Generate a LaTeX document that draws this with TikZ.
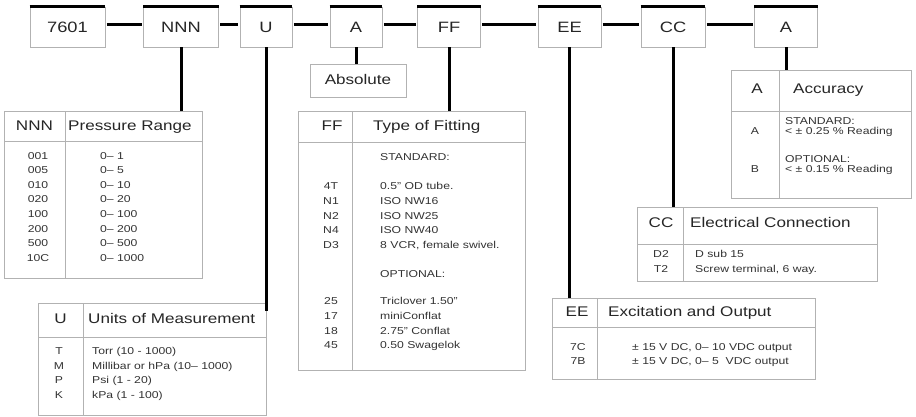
\documentclass[tikz,border=0pt]{standalone}
\usepackage{fontspec}
\setmainfont{Liberation Sans}[FakeStretch=1.22]
\usetikzlibrary{fit}
\tikzset{
  topbox/.style={draw=black!30, line width=0.8pt, minimum height=40pt, inner sep=0pt,
    font=\fontsize{15}{15}\selectfont, text=black!85},
  topline/.style={line width=2.2pt, black},
  conn/.style={line width=3pt, black},
  frame/.style={draw=black!30, line width=1pt, inner sep=0pt},
  rule/.style={draw=black!30, line width=1pt},
  hd/.style={font=\fontsize{14}{14}\selectfont, inner sep=0pt, text=black!85,
    text height=10pt, text depth=3pt},
  sm/.style={font=\fontsize{10}{10}\selectfont, inner sep=0pt, text=black!80,
    text height=7pt, text depth=2pt},
}
\newcommand\mktable[7]{%
  \coordinate (#1-nw) at (#2,#3);
  \coordinate (#1-se) at (#4,#5);
  \node[frame, fit=(#1-nw)(#1-se)] (#1) {};
  \draw[rule] (#2,#6) -- (#4,#6);
  \draw[rule] (#7,#3) -- (#7,#5);
}
\begin{document}
\begin{tikzpicture}[x=1pt,y=-1pt]
\useasboundingbox[fill=white] (0,0) rectangle (916,417);

% top row
\node[topbox, minimum width=75pt] (b1) at (67.5,27) {7601};
\node[topbox, minimum width=75pt] (b2) at (181,27) {NNN};
\node[topbox, minimum width=52pt] (b3) at (266,27) {U};
\node[topbox, minimum width=52pt] (b4) at (356,27) {A};
\node[topbox, minimum width=63pt] (b5) at (449,27) {FF};
\node[topbox, minimum width=63pt] (b6) at (569.5,27) {EE};
\node[topbox, minimum width=64pt] (b7) at (673,27) {CC};
\node[topbox, minimum width=63pt] (b8) at (786,27) {A};
\foreach \b in {b1,b2,b3,b4,b5,b6,b7,b8}
  \draw[topline] (\b.north west) -- (\b.north east);
\foreach \a/\b in {b1/b2,b2/b3,b3/b4,b4/b5,b5/b6,b6/b7,b7/b8}
  \draw[conn, shorten <=1.5pt, shorten >=1.5pt] ([yshift=2pt]\a.east) -- ([yshift=2pt]\b.west);

% Absolute
\node[frame, hd, minimum width=96pt, minimum height=33pt] (abs) at (358,81.5) {Absolute};

% tables
\mktable{nnn}{4}{112}{202}{278}{142}{65}
\mktable{utab}{38}{303}{266}{415}{337}{83}
\mktable{fftab}{298}{112}{525}{370}{143}{352}
\mktable{eetab}{552}{298}{815}{379}{327}{597}
\mktable{cctab}{637}{207}{877}{281}{244}{683}
\mktable{acctab}{731}{71}{911}{198}{112}{779}

% drops
\draw[conn] (b2.south) -- (b2.south |- nnn.north);
\draw[conn] (b3.south) -- ([yshift=-8pt]b3.south |- utab.north);
\draw[conn] (b4.south) -- (b4.south |- abs.north);
\draw[conn] (b5.south) -- (b5.south |- fftab.north);
\draw[conn] (b6.south) -- (b6.south |- eetab.north);
\draw[conn] (b7.south) -- (b7.south |- cctab.north);
\draw[conn] (b8.south) -- (b8.south |- acctab.north);

% headers
\node[hd] (nnnh1) at (34.5,127) {NNN};
\node[hd, anchor=west] (nnnh2) at (68,127) {Pressure Range};
\node[hd] (uh1) at (60.5,320) {U};
\node[hd, anchor=west] (uh2) at (88,320) {Units of Measurement};
\node[hd] (ffh1) at (332,127.5) {FF};
\node[hd, anchor=west] (ffh2) at (373,127.5) {Type of Fitting};
\node[hd] (eeh1) at (577,313) {EE};
\node[hd, anchor=west] (eeh2) at (608,313) {Excitation and Output};
\node[hd] (cch1) at (661,224) {CC};
\node[hd, anchor=west] (cch2) at (690,224) {Electrical Connection};
\node[hd] (acch1) at (757,90) {A};
\node[hd, anchor=west] (acch2) at (793,90) {Accuracy};

% NNN body
\foreach \c/\v [count=\i from 0] in {001/0– 1,005/0– 5,010/0– 10,020/0– 20,100/0– 100,200/0– 200,500/0– 500,10C/0– 1000}{
  \node[sm] (nnnc\i) at (38,157+14.5*\i) {\c};
  \node[sm, anchor=west] (nnnv\i) at (100,157+14.5*\i) {\v};
}

% U body
\foreach \c/\v [count=\i from 0] in {T/Torr (10 - 1000),M/Millibar or hPa (10– 1000),P/Psi (1 - 20),K/kPa (1 - 100)}{
  \node[sm] (uc\i) at (59,352+14.6*\i) {\c};
  \node[sm, anchor=west] (uv\i) at (92,352+14.6*\i) {\v};
}

% FF body
\node[sm, anchor=west] (ffstd) at (380,158) {STANDARD:};
\foreach \c/\v/\y [count=\i] in {4T/0.5" OD tube./187,N1/ISO NW16/202,N2/ISO NW25/216.5,N4/ISO NW40/231,D3/{8 VCR, female swivel.}/246,
  25/Triclover 1.50"/302,17/miniConflat/317,18/2.75" Conflat/331.5,45/0.50 Swagelok/346}{
  \node[sm] (ffc\i) at (331,\y) {\c};
  \node[sm, anchor=west] (ffv\i) at (380,\y) {\v};
}
\node[sm, anchor=west] (ffopt) at (380,275) {OPTIONAL:};

% EE body
\foreach \c/\v/\y [count=\i] in {7C/{± 15 V DC, 0– 10 VDC output}/348,7B/{± 15 V DC, 0– 5 \ VDC output}/362}{
  \node[sm] (eec\i) at (578,\y) {\c};
  \node[sm, anchor=west] (eev\i) at (632,\y) {\v};
}

% CC body
\foreach \c/\v/\y [count=\i] in {D2/D sub 15/255,T2/{Screw terminal, 6 way.}/270}{
  \node[sm] (ccc\i) at (661,\y) {\c};
  \node[sm, anchor=west] (ccv\i) at (695,\y) {\v};
}

% Accuracy body
\node[sm] (accc1) at (755,132) {A};
\node[sm] (accc2) at (755,170) {B};
\node[sm, anchor=west] (accs) at (785,122) {STANDARD:};
\node[sm, anchor=west] (accv1) at (785,132) {< ± 0.25 \% Reading};
\node[sm, anchor=west] (acco) at (785,160) {OPTIONAL:};
\node[sm, anchor=west] (accv2) at (785,170) {< ± 0.15 \% Reading};
\end{tikzpicture}
\end{document}
